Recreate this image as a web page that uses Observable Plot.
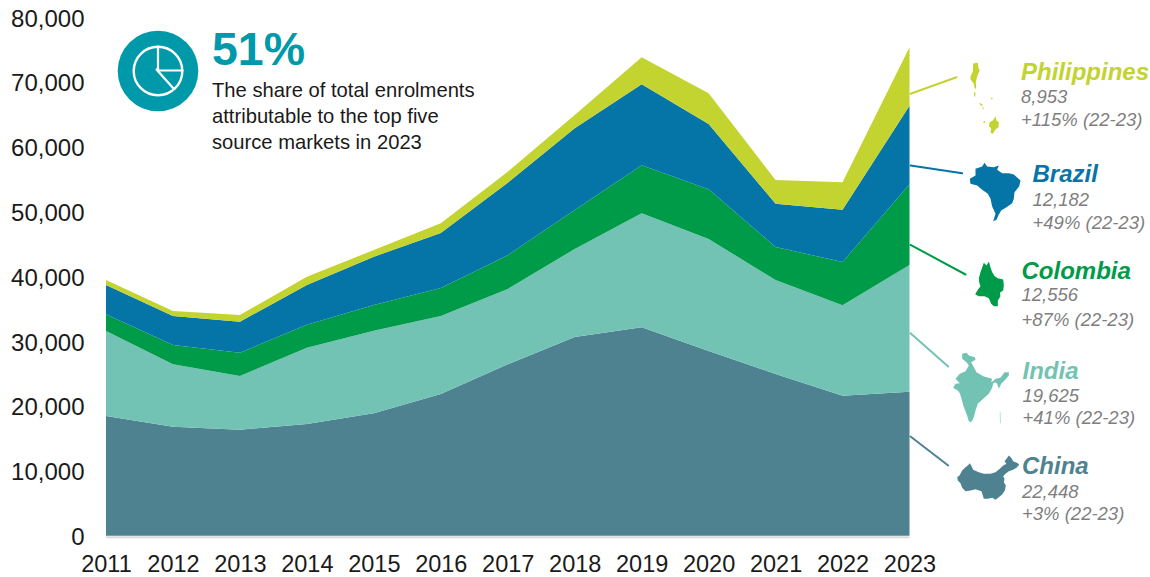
<!DOCTYPE html>
<html>
<head>
<meta charset="utf-8">
<script src="https://cdn.jsdelivr.net/npm/d3@7"></script>
<script src="https://cdn.jsdelivr.net/npm/@observablehq/plot@0.6"></script>
<style>
html,body{margin:0;padding:0;background:#fff;}
#wrap{position:relative;width:1150px;height:577px;overflow:hidden;}
#wrap svg{position:absolute;left:0;top:0;background:transparent;}
</style>
</head>
<body>
<div id="wrap"></div>
<script>
const FONT = "'Liberation Sans', Arial, sans-serif";
const years = [2011,2012,2013,2014,2015,2016,2017,2018,2019,2020,2021,2022,2023];
const countries = ["China","India","Colombia","Brazil","Philippines"];
const colours = ["#4e8291","#72c3b4","#009b48","#0575a8","#c3d32f"];

const china       = [18490,16840,16380,17260,18910,21890,26470,30680,32180,28520,24970,21620,22240];
const india       = [13120, 9630, 8280,11770,12750,12040,11620,13590,17600,17290,14510,13960,19560];
const colombia    = [ 2580, 2980, 3600, 3550, 3960, 4320, 5210, 6020, 7410, 7670, 5100, 6680,12450];
const brazil      = [ 4520, 4480, 4790, 6130, 7460, 8490,11200,12610,12500,10080, 6680, 8070,12140];
const philippines = [  770,  770, 1030, 1280, 1030, 1490, 1700, 2050, 4170, 4740, 3660, 4230, 9010];

const enrolments2023 = ["22,448","19,625","12,556","12,182","8,953"];
const growth = ["+3% (22-23)","+41% (22-23)","+87% (22-23)","+49% (22-23)","+115% (22-23)"];

const yTicks = [0,10000,20000,30000,40000,50000,60000,70000,80000];
const calloutFigure = "51%";
const calloutLines = ["The share of total enrolments","attributable to the top five","source markets in 2023"];

// Country silhouettes, traced as [x, y] outlines at 3x in a crop with the given origin
const outlineChina = {origin:[880,300], rings:[[[230,530],[237,525],[245,510],[255,500],[262,495],[268,488],[272,495],[278,508],[295,515],[310,520],[330,520],[345,515],[358,505],[368,495],[378,490],[372,482],[378,475],[385,465],[392,472],[398,482],[412,488],[416,493],[408,502],[398,508],[385,512],[375,520],[368,527],[372,535],[370,545],[376,555],[373,570],[365,582],[355,590],[345,598],[335,592],[322,595],[310,595],[306,582],[303,572],[285,566],[270,570],[255,572],[245,562],[240,548],[232,540]]]};
const outlineIndia = {origin:[880,300], rings:[
  [[245,160],[258,157],[265,165],[283,170],[285,178],[272,185],[280,200],[288,215],[310,228],[335,235],[332,245],[340,240],[345,235],[360,232],[372,215],[385,215],[385,225],[372,240],[362,250],[355,265],[350,250],[345,245],[338,248],[335,262],[325,280],[308,295],[292,310],[285,330],[280,350],[272,365],[265,362],[258,340],[250,320],[243,295],[238,278],[232,270],[218,262],[225,250],[238,248],[225,235],[238,220],[255,212],[265,195],[258,185],[245,175]],
  [[358,335],[359.5,335],[360,368],[358.5,368]]
]};
const outlineBrazil = {origin:[880,30], rings:[[[312,397],[320,408],[340,410],[355,405],[350,418],[365,428],[385,428],[400,432],[420,450],[416,468],[402,485],[400,505],[395,518],[378,530],[362,540],[355,552],[348,568],[338,572],[345,550],[335,528],[330,505],[322,490],[305,478],[290,465],[270,460],[268,445],[285,435],[285,415],[305,408]]]};
const outlineColombia = {origin:[960,55], rings:[[[85,618],[78,630],[70,622],[60,650],[55,668],[56,680],[60,692],[52,703],[44,716],[55,722],[72,722],[85,728],[92,745],[100,752],[112,752],[112,735],[120,722],[118,712],[128,705],[130,690],[128,672],[112,668],[103,662],[95,650],[90,635]]]};
const outlinePhilippines = {origin:[960,55], rings:[
  [[38,24],[52,22],[54,38],[58,44],[50,62],[46,80],[47,100],[42,98],[40,85],[30,72],[30,62],[37,48]],
  [[40,110],[45,112],[44,124],[41,122]],
  [[56,142],[66,146],[62,152]],
  [[90,126],[98,130],[93,132]],
  [[66,150],[70,160],[67,162]],
  [[67,200],[75,195],[72,203]],
  [[105,182],[108,195],[115,200],[114,215],[105,222],[97,235],[90,232],[92,218],[85,212],[87,200],[97,195]]
]};
const outlines = [outlineChina,outlineIndia,outlineColombia,outlineBrazil,outlinePhilippines];

// Annotation layout, in page pixels
const leaders = [[[910,436],[947.7,465]],[[910,332.7],[947.7,366]],[[910,244.3],[965,274]],[[910,165],[961.7,172.7]],[[910,93.3],[956,76.7]]];
const labelX = [1021.5,1022,1021,1032,1020.5];
const nameY = [466,370.7,270.7,174,71.7];
const valueY = [491.7,396,295,200,96.7];
const growthY = [514,418,319.3,222.7,119.3];

const rows = [china,india,colombia,brazil,philippines].flatMap((s,i)=>s.map((v,j)=>({year:years[j],value:v,country:countries[i]})));

const chart = Plot.plot({
  width:1150, height:577,
  marginLeft:106, marginRight:240.5, marginTop:17.5, marginBottom:41.2,
  style:{fontFamily:FONT, background:"transparent"},
  x:{domain:[2011,2023], label:null},
  y:{domain:[0,80000], label:null},
  color:{domain:countries, range:colours},
  marks:[
    Plot.ruleY([0],{stroke:"#dcdcdc",strokeWidth:2,dy:1}),
    Plot.areaY(rows,{x:"year",y:"value",fill:"country",z:"country",order:countries}),
    Plot.axisX(years,{tickSize:0,tickPadding:19.5,tickFormat:"d",fontSize:23.5,fill:"#1a1a1a",label:null,anchor:"bottom"}),
    Plot.axisY(yTicks,{tickSize:0,tickPadding:22,tickFormat:d3.format(","),fontSize:24,fill:"#1a1a1a",label:null,anchor:"left",dy:1})
  ]
});
document.getElementById("wrap").append(chart);

const feat = o => ({type:"Feature",geometry:{type:"MultiPolygon",coordinates:o.rings.map(r=>[[...r,r[0]].map(p=>[o.origin[0]+p[0]/3,o.origin[1]+p[1]/3])])}});
const shapes = outlines.map((o,i)=>({feature:feat(o),colour:colours[i]}));
const leaderRows = leaders.map((l,i)=>({feature:{type:"Feature",geometry:{type:"LineString",coordinates:l}},colour:colours[i]}));
const labels = countries.map((c,i)=>({name:c,colour:colours[i],value:enrolments2023[i],growth:growth[i],x:labelX[i],ny:nameY[i],vy:valueY[i],gy:growthY[i]}));

// Pie icon
const iconCentre = {x:157.5,y:70.5};
const iconLines = [
  [[157.5,46],[157.5,70],[182,70]],
  [[156,69],[173,88]]
].map(c=>({type:"LineString",coordinates:c}));

const overlay = Plot.plot({
  width:1150, height:577, margin:0,
  projection:{type:"identity"},
  style:{fontFamily:FONT, background:"transparent"},
  marks:[
    Plot.geo(leaderRows.map(d=>d.feature),{stroke:(d,i)=>leaderRows[i].colour,strokeWidth:2,fill:"none"}),
    Plot.geo(shapes.map(d=>d.feature),{fill:(d,i)=>shapes[i].colour,stroke:"none"}),
    Plot.dot([iconCentre],{x:"x",y:"y",r:40.3,fill:"#0099a9",stroke:"none"}),
    Plot.dot([iconCentre],{x:"x",y:"y",r:24.3,fill:"none",stroke:"#fff",strokeWidth:2.4}),
    Plot.geo(iconLines,{stroke:"#fff",strokeWidth:2.2,fill:"none"}),
    Plot.text([calloutFigure],{x:()=>211.5,y:()=>49.5,text:d=>d,fontSize:46.5,fontWeight:"bold",fill:"#0099a9",textAnchor:"start"}),
    Plot.text(calloutLines,{x:()=>211.5,y:(d,i)=>90+26*i,text:d=>d,fontSize:20.2,fill:"#1a1a1a",textAnchor:"start"}),
    Plot.text(labels,{x:"x",y:"ny",text:"name",fill:"colour",fontSize:24,fontWeight:"bold",fontStyle:"italic",textAnchor:"start"}),
    Plot.text(labels,{x:"x",y:"vy",text:"value",fill:"#7f7f7f",fontSize:18.5,fontStyle:"italic",textAnchor:"start"}),
    Plot.text(labels,{x:"x",y:"gy",text:"growth",fill:"#7f7f7f",fontSize:18.5,fontStyle:"italic",textAnchor:"start"})
  ]
});
document.getElementById("wrap").append(overlay);
</script>
</body>
</html>
